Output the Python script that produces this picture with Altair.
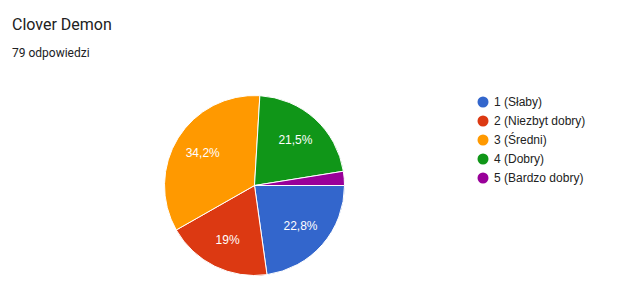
import math
import altair as alt
import pandas as pd

categories = ["1 (Słaby)", "2 (Niezbyt dobry)", "3 (Średni)", "4 (Dobry)", "5 (Bardzo dobry)"]
counts = [18, 15, 27, 17, 2]
colors = ["#3366cc", "#dc3912", "#ff9900", "#109618", "#990099"]
title_text = "Clover Demon"
subtitle_text = "79 odpowiedzi"

total = sum(counts)
labels = []
for c in counts:
    p = round(100 * c / total, 1)
    s = (f"{p:.1f}".rstrip("0").rstrip(".")).replace(".", ",") + "%"
    labels.append(s if p >= 5 else "")

df = pd.DataFrame({"cat": categories, "count": counts, "order": list(range(len(counts))), "label": labels})

CX, CY, R = 254.5, 185.5, 90
theta_scale = alt.Scale(range=[math.pi / 2, math.pi / 2 + 2 * math.pi])

base = alt.Chart(df).encode(
    theta=alt.Theta("count:Q", stack=True, scale=theta_scale),
    order=alt.Order("order:Q"),
)

pie = base.mark_arc(outerRadius=R, stroke="white", strokeWidth=1).encode(
    x=alt.value(CX),
    y=alt.value(CY),
    color=alt.Color(
        "cat:N",
        sort=categories,
        scale=alt.Scale(domain=categories, range=colors),
        legend=alt.Legend(
            orient="none",
            legendX=477,
            legendY=96,
            title=None,
            symbolType="circle",
            symbolSize=121,
            symbolStrokeWidth=0,
            labelFont="Liberation Sans",
            labelFontSize=12,
            labelColor="#222222",
            labelOffset=5,
            rowPadding=7,
        ),
    ),
)

text = base.mark_text(radius=61, font="Liberation Sans", fontSize=12, color="white").encode(
    x=alt.value(CX),
    y=alt.value(CY),
    text="label:N",
)

title = alt.Chart(pd.DataFrame({"t": [title_text]})).mark_text(
    align="left", baseline="alphabetic", font="Roboto", fontSize=16, color="#212121"
).encode(x=alt.value(12), y=alt.value(30), text="t:N")

subtitle = alt.Chart(pd.DataFrame({"t": [subtitle_text]})).mark_text(
    align="left", baseline="alphabetic", font="Roboto", fontSize=12, color="#202124"
).encode(x=alt.value(12), y=alt.value(57), text="t:N")

chart = alt.layer(pie, text, title, subtitle).properties(
    width=627, height=293, padding=0, autosize=alt.AutoSizeParams(type="none")
).configure_view(stroke=None)

chart.save("out.html", embed_options={"renderer": "svg", "actions": False})
